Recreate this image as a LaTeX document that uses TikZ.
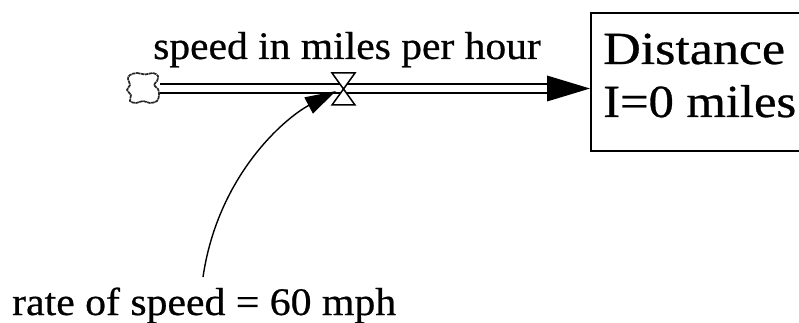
\documentclass[tikz,border=0pt]{standalone}
\usepackage{fontspec}
\setmainfont[FakeBold=0.6]{Liberation Serif}
\usepackage{graphicx}
\usetikzlibrary{arrows.meta,calc}
\begin{document}
\begin{tikzpicture}[x=1pt,y=-1pt,
  smalllbl/.style={anchor=base west, inner sep=0pt, font=\fontsize{39}{44}\selectfont},
  biglbl/.style={anchor=base west, inner sep=0pt, font=\fontsize{46}{52}\selectfont},
  pipe/.style={line width=2pt},
  stockbox/.style={draw, line width=2pt, anchor=north west, inner sep=0pt,
                   minimum width=220pt, minimum height=138pt},
  valveshape/.style={draw, fill=white, line width=1.5pt, line join=miter},
  infl/.style={line width=1.4pt, -{Triangle[length=31pt,width=18pt]}},
  cloudline/.style={line width=1.7pt, draw=black!85, dash pattern=on 3.5pt off 0.6pt}
]
\useasboundingbox (0,0) rectangle (799,323);

% stock
\node[stockbox] (stock) at (590,12) {};
\node[biglbl] (stockname) at (603,64) {\scalebox{1.13}[1]{Distance}};
\node[biglbl] (stockinit) at (603,117) {\scalebox{1.10}[1]{I=0 miles}};

% cloud
\draw[cloudline] plot[smooth cycle, tension=0.6] coordinates {
  (130,75) (137,73) (145,74.5) (153,73) (158,76) (157,81) (154,85)
  (158,89) (159,95) (157,101) (150,103) (143,101) (136,103) (130,101)
  (131,95) (127,90) (130,85) (128,79)};
\coordinate (cloud) at (160,88.5);

% flow pipe
\coordinate (headbase) at (547,88.5);
\draw[pipe] ($(cloud)+(0,-4.2)$) -- ($(headbase)+(0,-4.2)$);
\draw[pipe] ($(cloud)+(0,4.2)$) -- ($(headbase)+(0,4.2)$);
\fill (547,75.5) -- (stock.west |- headbase) -- (547,101.5) -- cycle;

% valve
\coordinate (valve) at (343.5,89);
\draw[valveshape] (332,73) -- (355,73) -- (valve) -- cycle;
\draw[valveshape] (332,105) -- (355,105) -- (valve) -- cycle;

% labels
\node[smalllbl] (flowname) at (153,59) {\scalebox{1.065}[1]{speed in miles per hour}};
\node[smalllbl] (rate) at (12,315) {\scalebox{1.07}[1]{rate of speed = 60 mph}};

% influence
\coordinate (rstart) at (203,277);
\coordinate (vin) at (336,91);
\draw[infl] (rstart) .. controls (218,175) and (285,118) .. (vin);
\end{tikzpicture}
\end{document}
